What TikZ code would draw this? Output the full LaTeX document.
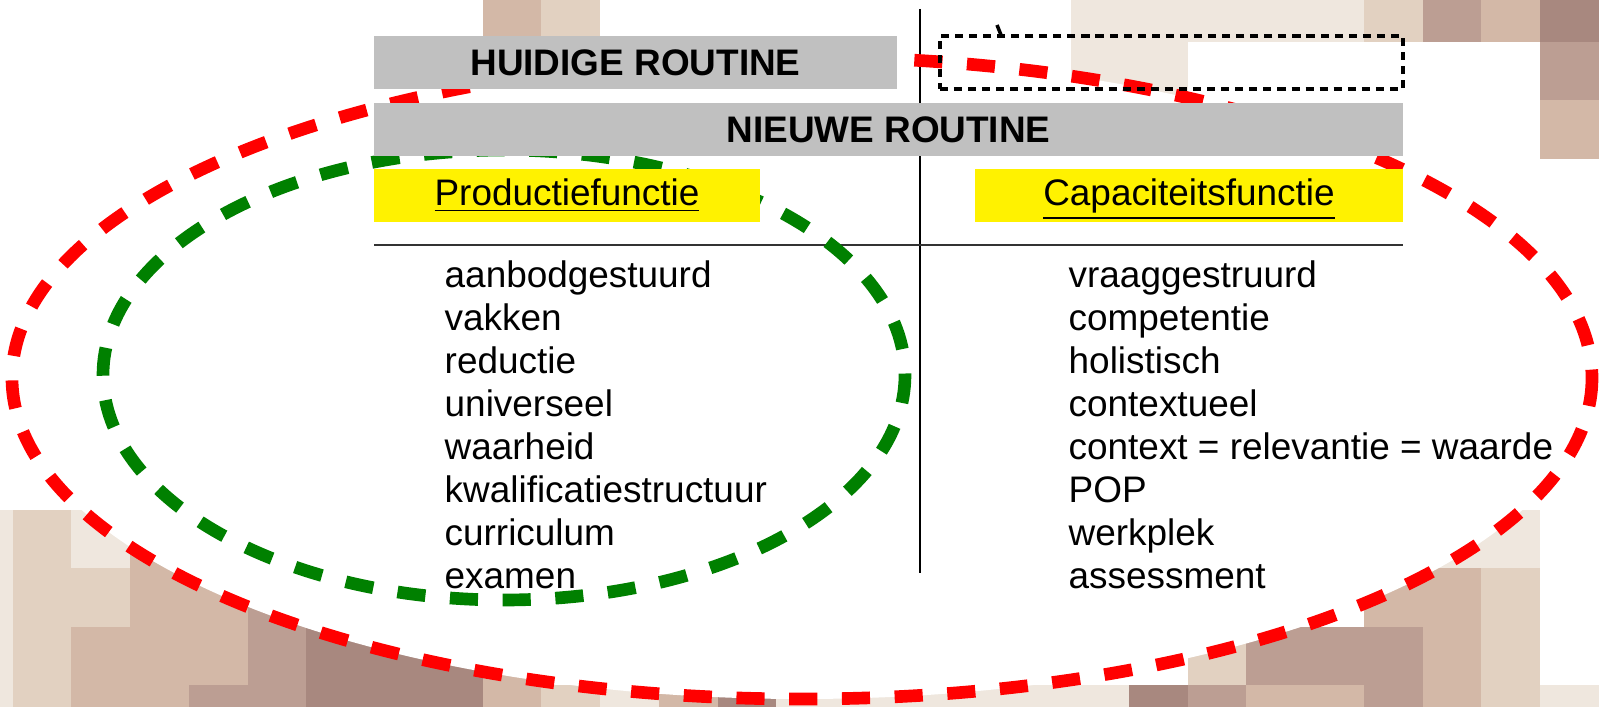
\documentclass[tikz,border=0pt]{standalone}
\usepackage{fontspec}
\setmainfont{Liberation Sans}

\definecolor{mozA}{HTML}{EFE7DE}
\definecolor{mozB}{HTML}{E2D1C1}
\definecolor{mozC}{HTML}{D3B8A7}
\definecolor{mozD}{HTML}{BC9E93}
\definecolor{mozE}{HTML}{A8887F}
\definecolor{kopgrijs}{HTML}{C0C0C0}
\definecolor{lijngrijs}{HTML}{333333}

\tikzset{
  kopbox/.style={fill=kopgrijs, inner sep=0pt, minimum height=0.53cm,
    font=\fontsize{10.5}{12.6}\selectfont\bfseries},
  geelbox/.style={fill=yellow, inner sep=0pt, minimum height=0.53cm,
    text height=7.7pt, text depth=2pt, font=\fontsize{10.5}{12.6}\selectfont},
  lijst/.style={anchor=base west, inner sep=0pt, font=\fontsize{10.5}{12.6}\selectfont},
  stippelbox/.style={draw=black, line width=1.1pt, dash pattern=on 2.3pt off 1.7pt,
    inner sep=0pt, minimum height=0.53cm},
  ovaal/.style={line width=3.6pt, dash pattern=on 8pt off 7pt}
}

\begin{document}
\begin{tikzpicture}[x=0.01cm, y=-0.01cm]
        \useasboundingbox (0,0) rectangle (1599,707);

        % Background blocks
        \fill[mozC] (483,0) rectangle (541,42);
        \fill[mozB] (541,0) rectangle (600,42);
        \fill[mozA] (1071,0) rectangle (1364,42);
        \fill[mozA] (1071,42) rectangle (1188,100);
        \fill[mozB] (1364,0) rectangle (1423,42);
        \fill[mozD] (1423,0) rectangle (1481,42);
        \fill[mozC] (1481,0) rectangle (1540,42);
        \fill[mozE] (1540,0) rectangle (1599,42);
        \fill[mozD] (1540,42) rectangle (1599,100);
        \fill[mozC] (1540,100) rectangle (1599,159);
        % bottom left
        \fill[mozA] (0,510) rectangle (13,707);
        \fill[mozB] (13,510) rectangle (71,707);
        \fill[mozA] (71,510) rectangle (130,568);
        \fill[mozB] (71,568) rectangle (130,627);
        \fill[mozC] (71,627) rectangle (130,707);
        \fill[mozC] (130,510) rectangle (248,685);
        \fill[mozC] (130,685) rectangle (189,707);
        \fill[mozD] (189,685) rectangle (248,707);
        \fill[mozD] (248,510) rectangle (306,707);
        \fill[mozE] (306,568) rectangle (483,707);
        \fill[mozC] (483,627) rectangle (541,707);
        \fill[mozB] (541,685) rectangle (600,707);
        \fill[mozA] (600,685) rectangle (659,707);
        \fill[mozC] (659,685) rectangle (718,707);
        \fill[mozE] (718,685) rectangle (776,707);
        \fill[mozA] (776,685) rectangle (1129,707);
        % bottom right
        \fill[mozE] (1129,685) rectangle (1188,707);
        \fill[mozB] (1188,627) rectangle (1246,685);
        \fill[mozD] (1188,685) rectangle (1246,707);
        \fill[mozD] (1246,627) rectangle (1423,685);
        \fill[mozC] (1246,685) rectangle (1364,707);
        \fill[mozD] (1364,685) rectangle (1423,707);
        \fill[mozC] (1364,568) rectangle (1423,627);
        \fill[mozA] (1423,510) rectangle (1540,568);
        \fill[mozC] (1423,568) rectangle (1481,707);
        \fill[mozB] (1481,568) rectangle (1540,707);
        \fill[mozA] (1540,685) rectangle (1599,707);

        % Define centres
        \coordinate (Mrood) at (802,378);
        \coordinate (Mgroen) at (504,375);
        \fill[white] (Mrood) ellipse [x radius=790, y radius=321];

        % Draw lines
        \coordinate (boven) at (920,9);
        \coordinate (onder) at (920,573);
        \coordinate (links) at (374,245);
        \coordinate (rechts) at (1403,245);
        \draw[line width=0.45pt, black] (boven) -- (onder);
        \draw[line width=0.5pt, lijngrijs] (links) -- (rechts);

        % Draw ellipses
        \draw[ovaal, red] (Mrood) ellipse [x radius=790, y radius=321];
        \draw[ovaal, green!50!black] (Mgroen) ellipse [x radius=401, y radius=225];

        % Headers
        \node[kopbox, minimum width=5.23cm] (huidig) at (635.5,62.5) {HUIDIGE ROUTINE};
        \node[kopbox, minimum width=10.29cm] (nieuw) at (888.5,129.5) {NIEUWE ROUTINE};
        \node[stippelbox, minimum width=4.63cm] (leeg) at (1171.5,62.5) {};
        \coordinate (tikA) at (997,25);
        \coordinate (tikB) at (1001,35);
        \draw[line width=1pt] (tikA) -- (tikB);
        \node[geelbox, minimum width=3.86cm] (prod) at (567,195.5) {\underline{Productiefunctie}};
        \node[geelbox, minimum width=4.28cm] (cap) at (1189,195.5) {\underline{Capaciteitsfunctie}};

        % Left column
        \node[lijst] (p1) at (444,288) {aanbodgestuurd};
        \node[lijst] (p2) at (444,331) {vakken};
        \node[lijst] (p3) at (444,374) {reductie};
        \node[lijst] (p4) at (444,417) {universeel};
        \node[lijst] (p5) at (444,460) {waarheid};
        \node[lijst] (p6) at (444,503) {kwalificatiestructuur};
        \node[lijst] (p7) at (444,546) {curriculum};
        \node[lijst] (p8) at (444,589) {examen};

        % Right column
        \node[lijst] (c1) at (1068,288) {vraaggestruurd};
        \node[lijst] (c2) at (1068,331) {competentie};
        \node[lijst] (c3) at (1068,374) {holistisch};
        \node[lijst] (c4) at (1068,417) {contextueel};
        \node[lijst] (c5) at (1068,460) {context = relevantie = waarde};
        \node[lijst] (c6) at (1068,503) {POP};
        \node[lijst] (c7) at (1068,546) {werkplek};
        \node[lijst] (c8) at (1068,589) {assessment};
\end{tikzpicture}
\end{document}
